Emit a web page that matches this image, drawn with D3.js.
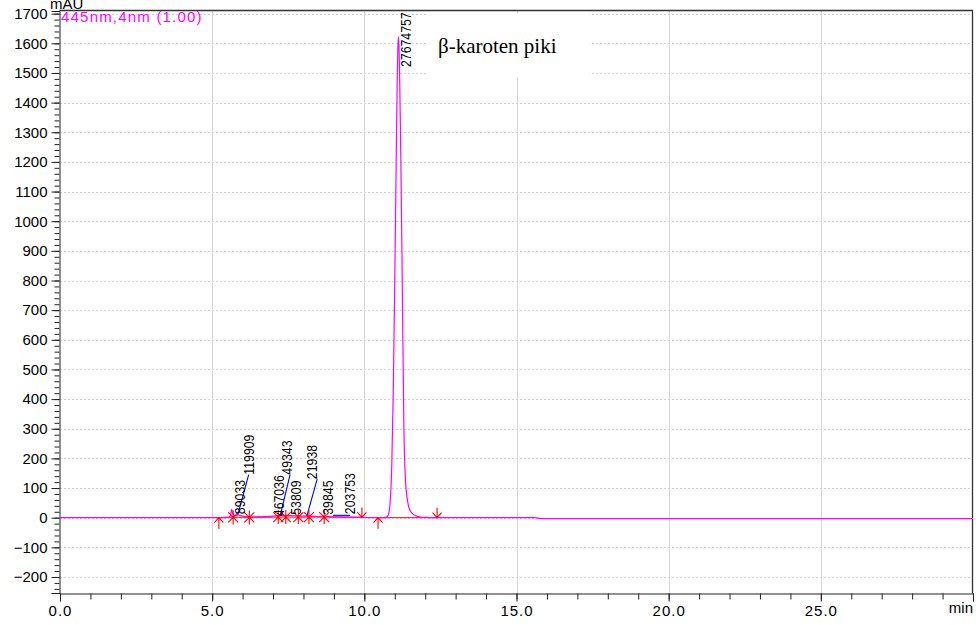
<!DOCTYPE html>
<html>
<head>
<meta charset="utf-8">
<script src="https://cdn.jsdelivr.net/npm/d3@7/dist/d3.min.js"></script>
<style>
  body { margin: 0; background: #fff; }
  svg { font-family: "Liberation Sans", Arial, sans-serif; }
</style>
</head>
<body>
<svg id="chart" width="980" height="625"></svg>
<script>
// ── data (time in min, signal in mAU) ──
const traceTime = [0, 5.0, 5.2, 5.5, 5.6, 5.64, 5.68, 5.75, 5.85, 6.0, 6.2, 6.5, 7.0, 7.2, 7.4, 7.6, 7.8,
  8.0, 8.2, 8.5, 8.7, 9.0, 9.5, 9.9, 10.2, 10.6, 10.7, 10.75, 10.8, 10.85, 10.9, 10.95, 11.0, 11.05,
  11.08, 11.1, 11.12, 11.14, 11.16, 11.2, 11.25, 11.3, 11.35, 11.4, 11.45, 11.5, 11.6, 11.7, 11.85,
  12.0, 12.4, 15.6, 15.8, 30];
const traceMAU = [0, 0, 0, 1, 6, 28, 12, 6, 9, 5, 3, 3, 5, 8, 8, 7, 6,
  5, 5, 4, 4, 3, 2, 1, 0, 0, 1, 4, 14, 55, 170, 420, 800, 1230,
  1470, 1580, 1622, 1585, 1490, 1210, 760, 300, 130, 70, 40, 25, 12, 6, 2,
  1, 0, 0, -3, -3];

// integration marks
const markTime = [5.22, 5.69, 6.22, 7.17, 7.42, 7.83, 8.18, 8.68, 9.92, 10.45, 12.39];
const markType = ["up", "star", "star", "star", "star", "star", "star", "star", "down", "up", "down"];
const markMAU  = [0, 1, 1, 2, 2, 2, 2, 2, 1, 0, 0];

// peak area labels (centre time, bottom of text in mAU)
const areaText = ["89033", "119909", "467036", "49343", "53809", "21938", "39845", "203753", "27674757"];
const areaTime = [5.90, 6.20, 7.18, 7.46, 7.76, 8.28, 8.82, 9.53, 11.38];
const areaMAU  = [12, 145, 5, 145, 10, 130, 10, 12, 1520];

// leader lines from peak to displaced label
const leadFromTime = [5.84, 7.23, 8.11, 8.97];
const leadFromMAU  = [9, 5, 5, 8];
const leadToTime   = [6.20, 7.56, 8.45, 9.53];
const leadToMAU    = [145, 145, 130, 8];

const yMajor = d3.range(-200, 1701, 100);
const xMajor = [0, 5, 10, 15, 20, 25, 30];

const MAGENTA = "#ff00ff";
const RED = "#ff0000";

const svg = d3.select("#chart");

const x = d3.scaleLinear().domain([0, 30]).range([60, 973]);
const y = d3.scaleLinear().domain([-254, 1709]).range([593, 11]);

// gridlines
svg.append("g").selectAll("line").data(yMajor).join("line")
  .attr("x1", 60).attr("x2", 973)
  .attr("y1", d => Math.round(y(d)) + 0.5).attr("y2", d => Math.round(y(d)) + 0.5)
  .attr("stroke", "#d4d4d4").attr("stroke-dasharray", "2,2");

svg.append("g").selectAll("line").data(xMajor.slice(1, -1)).join("line")
  .attr("x1", d => Math.round(x(d)) + 0.5).attr("x2", d => Math.round(x(d)) + 0.5)
  .attr("y1", 11).attr("y2", 593)
  .attr("stroke", "#d6d6d6");

// white box behind the annotation
svg.append("rect")
  .attr("x", x(12.05)).attr("y", y(1700))
  .attr("width", x(17.4) - x(12.05)).attr("height", y(1485) - y(1700))
  .attr("fill", "#fff");

// axes
const yAxis = svg.append("g").attr("transform", "translate(59.5,0)")
  .call(d3.axisLeft(y).tickValues(yMajor).tickSize(8).tickPadding(4).tickFormat(d3.format("d")));
svg.append("g").attr("transform", "translate(59.5,0)")
  .call(d3.axisLeft(y).tickValues(d3.range(-240, 1701, 20)).tickSize(5).tickFormat(""))
  .call(g => g.select(".domain").remove());

const xAxis = svg.append("g").attr("transform", "translate(0,593.5)")
  .call(d3.axisBottom(x).tickValues(xMajor).tickSize(8).tickPadding(3.5)
    .tickFormat(d => d === 30 ? "" : d3.format(".1f")(d)));
svg.append("g").attr("transform", "translate(0,593.5)")
  .call(d3.axisBottom(x).tickValues(d3.range(0, 31, 1)).tickSize(6).tickFormat(""))
  .call(g => g.select(".domain").remove());

svg.selectAll(".tick line").attr("stroke", "#222");
svg.selectAll(".domain").attr("stroke", "#222");
yAxis.selectAll("text").attr("font-size", 15).attr("fill", "#000").style("font-family", "Liberation Sans, Arial");
xAxis.selectAll("text").attr("font-size", 15).attr("fill", "#000").attr("letter-spacing", "1px")
  .style("font-family", "Liberation Sans, Arial");

// frame top / right
svg.append("path")
  .attr("d", `M59.5,10.5H972.5V593.5`)
  .attr("fill", "none").attr("stroke", "#333").attr("stroke-width", 1.3);

svg.append("text").attr("x", 50).attr("y", 9).attr("font-size", 15).attr("fill", "#000").text("mAU");
svg.append("text").attr("x", 973).attr("y", 613).attr("text-anchor", "end")
  .attr("font-size", 15).attr("fill", "#000").text("min");

// red baseline between integration marks
const baseIdx = [[0, 8], [9, 10]];
const baseLine = d3.line().x(i => x(markTime[i])).y(i => y(markMAU[i]));
baseIdx.forEach(([a, b]) => {
  svg.append("path").datum(d3.range(a, b + 1))
    .attr("d", baseLine).attr("fill", "none")
    .attr("stroke", "#ff3030").attr("stroke-width", 1.2);
});

// chromatogram trace
const trace = traceTime.map((t, i) => ({ t, v: traceMAU[i] }));
svg.append("path").datum(trace)
  .attr("d", d3.line().x(d => x(d.t)).y(d => y(d.v)).curve(d3.curveMonotoneX))
  .attr("fill", "none").attr("stroke", MAGENTA).attr("stroke-width", 1.2)
  .attr("stroke-linejoin", "round");

// leader lines
svg.append("g").selectAll("line").data(leadFromTime).join("line")
  .attr("x1", (d, i) => x(d)).attr("y1", (d, i) => y(leadFromMAU[i]))
  .attr("x2", (d, i) => x(leadToTime[i])).attr("y2", (d, i) => y(leadToMAU[i]))
  .attr("stroke", "#0000ff").attr("stroke-width", 1.1);

// integration marks
const marks = svg.append("g").attr("stroke", RED).attr("stroke-width", 1.1).attr("fill", "none");
markTime.forEach((t, i) => {
  const cx = x(t), cy = y(markMAU[i]);
  let d;
  if (markType[i] === "up") {
    d = `M${cx},${cy}V${cy + 11}M${cx - 4.5},${cy + 5}L${cx},${cy}L${cx + 4.5},${cy + 5}`;
  } else if (markType[i] === "down") {
    d = `M${cx},${cy}V${cy - 10}M${cx - 4.5},${cy - 5}L${cx},${cy}L${cx + 4.5},${cy - 5}`;
  } else {
    d = `M${cx},${cy - 7}V${cy + 7}M${cx - 5},${cy - 5}L${cx + 5},${cy + 5}M${cx - 5},${cy + 5}L${cx + 5},${cy - 5}`;
  }
  marks.append("path").attr("d", d);
});

// rotated area labels
svg.append("g").selectAll("text").data(areaText).join("text")
  .attr("transform", (d, i) => `translate(${x(areaTime[i])},${y(areaMAU[i])}) rotate(-90) scale(0.88,1)`)
  .attr("dy", "0.36em")
  .attr("font-size", 14).attr("fill", "#000")
  .text(d => d);

// legend + annotation
svg.append("text").attr("x", 61).attr("y", 22)
  .attr("font-size", 15).attr("letter-spacing", "1.2px").attr("fill", MAGENTA)
  .text("445nm,4nm (1.00)");

svg.append("text").attr("x", x(12.42)).attr("y", y(1568))
  .style("font-family", "'Liberation Serif', 'Times New Roman', serif")
  .attr("font-size", 21).attr("fill", "#000")
  .text("β-karoten piki");
</script>
</body>
</html>
